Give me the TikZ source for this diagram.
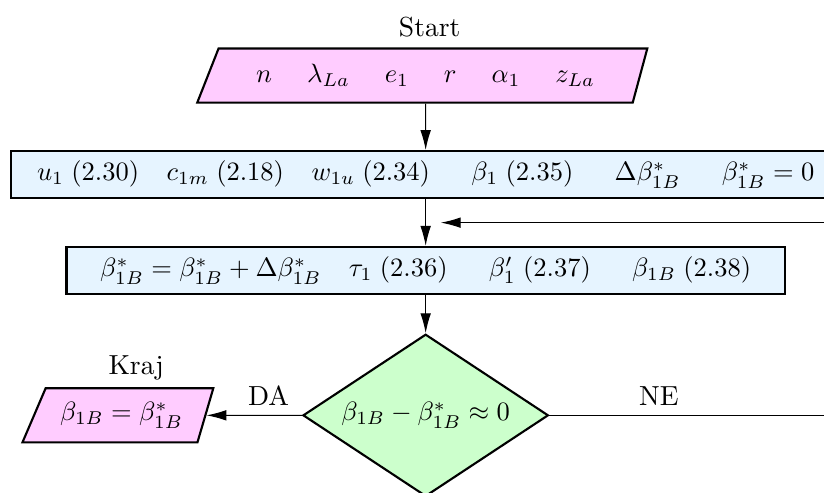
\documentclass[tikz,border=0pt]{standalone}
\usepackage{amsmath, amssymb}
\usepackage{xcolor}
\usepackage{tikz}
\usetikzlibrary{shapes, arrows.meta, positioning, calc}

\definecolor{iopink}{RGB}{255,204,255}
\definecolor{blockblue}{RGB}{230,244,255}
\definecolor{testgreen}{RGB}{204,255,204}

\begin{document}
\begin{tikzpicture}[font=\fontsize{10.4pt}{12.5pt}\selectfont,
  io/.style={trapezium, trapezium left angle=62, trapezium right angle=110,
    trapezium stretches body, draw, thick, fill=iopink, minimum height=20.4pt},
  block/.style={rectangle, draw, thick, fill=blockblue, minimum height=17.85pt},
  decision/.style={diamond, draw, thick, fill=testgreen, aspect=1.5,
    minimum width=92.6pt, minimum height=61.2pt, inner sep=0pt},
  arr/.style={-{Latex[length=7.5pt,width=4pt]}}]
\path[use as bounding box] (-160.6pt,28.5pt) rectangle (150.3pt,-157.5pt);
\clip (-160.6pt,28.5pt) rectangle (150.3pt,-157.5pt);

\node (in) [io, minimum width=169.8pt] {$n\quad\;\lambda_{La}\quad\; e_1\quad\; r\quad\;\alpha_1\quad\; z_{La}$};
\node (start) [above=0.5pt of in, xshift=1.5pt] {Start};
\node (init) [block, below=17.5pt of in, minimum width=313pt] {$u_1\;(2.30)\quad c_{1m}\;(2.18)\quad w_{1u}\;(2.34)\quad\enskip\beta_1\;(2.35)\quad\enskip\Delta\beta^*_{1B}\quad\enskip\beta^*_{1B}=0$};
\node (iter) [block, below=17.5pt of init, minimum width=271pt] {$\beta^*_{1B}=\beta^*_{1B}+\Delta\beta^*_{1B}\quad\tau_1\;(2.36)\quad\enskip\beta'_1\;(2.37)\quad\enskip\beta_{1B}\;(2.38)$};
\node (test) [decision, below=14.3pt of iter] {$\beta_{1B}-\beta^*_{1B}\approx0$};
\node (out) [io, left=36pt of test, minimum width=72pt] {$\beta_{1B}=\beta^*_{1B}$};
\node (stop) [above=-1pt of out, xshift=5.5pt] {Kraj};

\coordinate (back) at ($(init.south)!0.5!(iter.north)+(5.7pt,0)$);
\coordinate (turn) at ($(test.east)+(118pt,0)$);

\draw [arr] (in) -- (init);
\draw [arr] (init) -- (iter);
\draw [arr] (iter) -- (test);
\draw [arr] (test) -- node[above, pos=0.35] {DA} (out);
\draw [arr] (test) -- node[above, pos=0.35] {NE} (turn) |- (back);
\end{tikzpicture}
\end{document}
